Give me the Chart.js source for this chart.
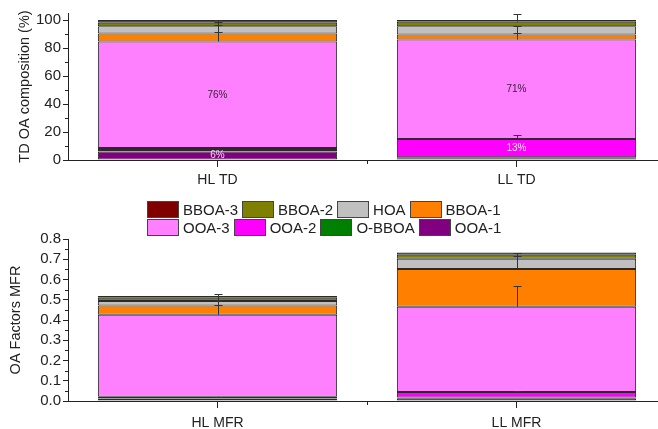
<!DOCTYPE html>
<html>
<head>
<meta charset="utf-8">
<title>OA factor composition</title>
<script src="https://cdn.jsdelivr.net/npm/chart.js@4.4.1/dist/chart.umd.min.js"></script>
<style>
  html, body { margin: 0; padding: 0; background: #fff; overflow: hidden; }
  #wrap { position: relative; width: 658px; height: 429px; overflow: hidden; }
  #wrap canvas { position: absolute; left: 0; }
  #cTD { top: 0; }
  #cMFR { top: 228px; }
  #legend {
    position: absolute; top: 200px; left: 147px; z-index: 2;
    font-family: "Liberation Sans", Arial, sans-serif; font-size: 15px; color: #222;
  }
  #legend .row { display: flex; align-items: center; height: 18px; }
  #legend .item { display: flex; align-items: center; margin-right: 4px; }
  #legend .box { width: 30px; height: 15px; border: 1px solid #444; margin-right: 4px; }
</style>
</head>
<body>
<div id="wrap">
  <canvas id="cTD" width="666" height="195"></canvas>
  <div id="legend"></div>
  <canvas id="cMFR" width="666" height="201"></canvas>
</div>
<script>
// Categories
const categoriesTD = ['HL TD', 'LL TD'];
const categoriesMFR = ['HL MFR', 'LL MFR'];

// Factors, bottom of the stack first
const factorNames = ['OOA-1', 'O-BBOA', 'OOA-2', 'OOA-3', 'BBOA-1', 'HOA', 'BBOA-2', 'BBOA-3'];
const factorColors = ['#800080', '#008000', '#FF00FF', '#FF80FF', '#FF8000', '#C0C0C0', '#808000', '#800000'];

// TD OA composition (%), [HL, LL]
const tdOOA1  = [6, 1.2];
const tdOBBOA = [1.2, 0.8];
const tdOOA2  = [1.4, 13];
const tdOOA3  = [76, 71];
const tdBBOA1 = [5.7, 3.7];
const tdHOA   = [5.2, 5.8];
const tdBBOA2 = [2.5, 3.3];
const tdBBOA3 = [2.0, 1.2];

// TD upper error (%), [HL, LL]
const tdErrOOA1  = [0, 0];
const tdErrOBBOA = [0, 0];
const tdErrOOA2  = [0, 3.2];
const tdErrOOA3  = [6.7, 4.6];
const tdErrBBOA1 = [5.9, 6.3];
const tdErrHOA   = [3.1, 0];
const tdErrBBOA2 = [1.7, 5.3];
const tdErrBBOA3 = [0, 0];

// OA factors MFR, [HL, LL]
const mfrOOA1  = [0.012, 0.013];
const mfrOBBOA = [0.003, 0.004];
const mfrOOA2  = [0.006, 0.027];
const mfrOOA3  = [0.405, 0.421];
const mfrBBOA1 = [0.046, 0.187];
const mfrHOA   = [0.022, 0.050];
const mfrBBOA2 = [0.016, 0.020];
const mfrBBOA3 = [0.008, 0.011];

// MFR upper error, [HL, LL]
const mfrErrOOA1  = [0, 0];
const mfrErrOBBOA = [0, 0];
const mfrErrOOA2  = [0.001, 0.003];
const mfrErrOOA3  = [0.050, 0.102];
const mfrErrBBOA1 = [0.025, 0.066];
const mfrErrHOA   = [0.033, 0.030];
const mfrErrBBOA2 = [0, 0];
const mfrErrBBOA3 = [0, 0];

// Axis ticks
const tdTicks = [0, 20, 40, 60, 80, 100];
const mfrTicks = [0, 0.1, 0.2, 0.3, 0.4, 0.5, 0.6, 0.7, 0.8];

const tdSeries  = [tdOOA1, tdOBBOA, tdOOA2, tdOOA3, tdBBOA1, tdHOA, tdBBOA2, tdBBOA3];
const tdErrors  = [tdErrOOA1, tdErrOBBOA, tdErrOOA2, tdErrOOA3, tdErrBBOA1, tdErrHOA, tdErrBBOA2, tdErrBBOA3];
const mfrSeries = [mfrOOA1, mfrOBBOA, mfrOOA2, mfrOOA3, mfrBBOA1, mfrHOA, mfrBBOA2, mfrBBOA3];
const mfrErrors = [mfrErrOOA1, mfrErrOBBOA, mfrErrOOA2, mfrErrOOA3, mfrErrBBOA1, mfrErrHOA, mfrErrBBOA2, mfrErrBBOA3];

// Percent labels inside the OOA segments of the TD bars
const labelledFactors = ['OOA-1', 'OOA-2', 'OOA-3'];
const labelColors = { 'OOA-1': '#f2d2f2', 'OOA-2': '#fbe6fb', 'OOA-3': '#3a2038' };

const FONT = '"Liberation Sans", Arial, sans-serif';
const INK = '#222';
Chart.defaults.font.family = FONT;
Chart.defaults.color = INK;

function makeDatasets(series, errors, withLabels) {
  return series.map((values, k) => ({
    label: factorNames[k],
    data: values,
    errors: errors[k],
    showValue: withLabels && labelledFactors.includes(factorNames[k]),
    backgroundColor: factorColors[k],
    borderColor: '#2a2a2a',
    borderWidth: 1,
    borderSkipped: false,
    barPercentage: 0.8,
    categoryPercentage: 1.0
  }));
}

// Error bars drawn upward from the top of each stacked segment
const errorBars = {
  id: 'errorBars',
  afterDatasetsDraw(chart) {
    const ctx = chart.ctx, y = chart.scales.y;
    const tops = chart.data.labels.map(() => 0);
    ctx.save();
    ctx.strokeStyle = '#333';
    ctx.lineWidth = 1;
    chart.data.datasets.forEach((ds, di) => {
      const meta = chart.getDatasetMeta(di);
      ds.data.forEach((v, i) => {
        tops[i] += v;
        const err = ds.errors ? ds.errors[i] : 0;
        if (!err) return;
        const x = Math.round(meta.data[i].x) + 0.5;
        const y0 = y.getPixelForValue(tops[i]);
        const y1 = Math.round(y.getPixelForValue(tops[i] + err)) + 0.5;
        ctx.beginPath();
        ctx.moveTo(x, y0);
        ctx.lineTo(x, y1);
        ctx.moveTo(x - 4, y1);
        ctx.lineTo(x + 4, y1);
        ctx.stroke();
      });
    });
    ctx.restore();
  }
};

// Value labels centred in selected segments
const segmentLabels = {
  id: 'segmentLabels',
  afterDatasetsDraw(chart) {
    const ctx = chart.ctx;
    ctx.save();
    ctx.font = '10px ' + FONT;
    ctx.textAlign = 'center';
    ctx.textBaseline = 'middle';
    chart.data.datasets.forEach((ds, di) => {
      if (!ds.showValue) return;
      const meta = chart.getDatasetMeta(di);
      ds.data.forEach((v, i) => {
        if (v < 5) return;
        const el = meta.data[i];
        ctx.fillStyle = labelColors[ds.label];
        ctx.fillText(Math.round(v) + '%', el.x, (el.y + el.base) / 2);
      });
    });
    ctx.restore();
  }
};

// Minor ticks: halfway between major y ticks, and at the boundary between categories
const minorTicks = {
  id: 'minorTicks',
  afterDraw(chart, args, opts) {
    const ctx = chart.ctx, x = chart.scales.x, y = chart.scales.y, area = chart.chartArea;
    ctx.save();
    ctx.strokeStyle = INK;
    ctx.lineWidth = 1;
    ctx.beginPath();
    const majors = opts.majors;
    for (let k = 0; k < majors.length - 1; k++) {
      const py = Math.round(y.getPixelForValue((majors[k] + majors[k + 1]) / 2)) + 0.5;
      ctx.moveTo(area.left - 3, py);
      ctx.lineTo(area.left, py);
    }
    for (let k = 0; k < chart.data.labels.length - 1; k++) {
      const px = Math.round(x.getPixelForValue(k + 0.5)) + 0.5;
      ctx.moveTo(px, area.bottom);
      ctx.lineTo(px, area.bottom + 4);
    }
    ctx.stroke();
    ctx.restore();
  }
};

function axes(opts) {
  return {
    x: {
      stacked: true,
      offset: true,
      grid: { display: true, offset: false, drawOnChartArea: false, tickLength: 7, color: INK },
      border: { color: INK, width: 1 },
      ticks: { font: { size: 14 }, color: INK, padding: opts.xPad },
      afterFit: s => { s.height = opts.xHeight; }
    },
    y: {
      stacked: true,
      min: opts.min,
      max: opts.max,
      grid: { display: true, drawOnChartArea: false, tickLength: 5, color: INK },
      border: { color: INK, width: 1 },
      ticks: { font: { size: 15 }, color: INK, padding: 2, autoSkip: false, callback: opts.fmt },
      afterBuildTicks: s => { s.ticks = opts.ticks.map(v => ({ value: v })); },
      afterFit: s => { s.width = 68; },
      title: { display: true, text: opts.title, font: { size: 14.5 }, color: INK, padding: { top: opts.titlePad, bottom: 0 } }
    }
  };
}

new Chart(document.getElementById('cTD'), {
  type: 'bar',
  data: { labels: categoriesTD, datasets: makeDatasets(tdSeries, tdErrors, true) },
  options: {
    responsive: false,
    animation: false,
    layout: { padding: { top: 13, left: 0, right: 0, bottom: 0 } },
    plugins: { legend: { display: false }, tooltip: { enabled: false }, minorTicks: { majors: tdTicks } },
    scales: axes({ min: 0, max: 105, ticks: tdTicks, fmt: v => String(v), title: 'TD OA composition (%)', titlePad: 16, xHeight: 35, xPad: 5 })
  },
  plugins: [errorBars, segmentLabels, minorTicks]
});

new Chart(document.getElementById('cMFR'), {
  type: 'bar',
  data: { labels: categoriesMFR, datasets: makeDatasets(mfrSeries, mfrErrors, false) },
  options: {
    responsive: false,
    animation: false,
    layout: { padding: { top: 6, left: 0, right: 0, bottom: 0 } },
    plugins: { legend: { display: false }, tooltip: { enabled: false }, minorTicks: { majors: mfrTicks } },
    scales: axes({ min: 0, max: 0.8, ticks: mfrTicks, fmt: v => Number(v).toFixed(1), title: 'OA Factors MFR', titlePad: 7, xHeight: 28, xPad: 7 })
  },
  plugins: [errorBars, minorTicks]
});

// Legend in two rows, top of the stack first
const legendRows = [['BBOA-3', 'BBOA-2', 'HOA', 'BBOA-1'], ['OOA-3', 'OOA-2', 'O-BBOA', 'OOA-1']];
const legendEl = document.getElementById('legend');
legendRows.forEach(names => {
  const row = document.createElement('div');
  row.className = 'row';
  names.forEach(name => {
    const item = document.createElement('div');
    item.className = 'item';
    const box = document.createElement('span');
    box.className = 'box';
    box.style.background = factorColors[factorNames.indexOf(name)];
    const txt = document.createElement('span');
    txt.textContent = name;
    item.appendChild(box);
    item.appendChild(txt);
    row.appendChild(item);
  });
  legendEl.appendChild(row);
});
</script>
</body>
</html>
